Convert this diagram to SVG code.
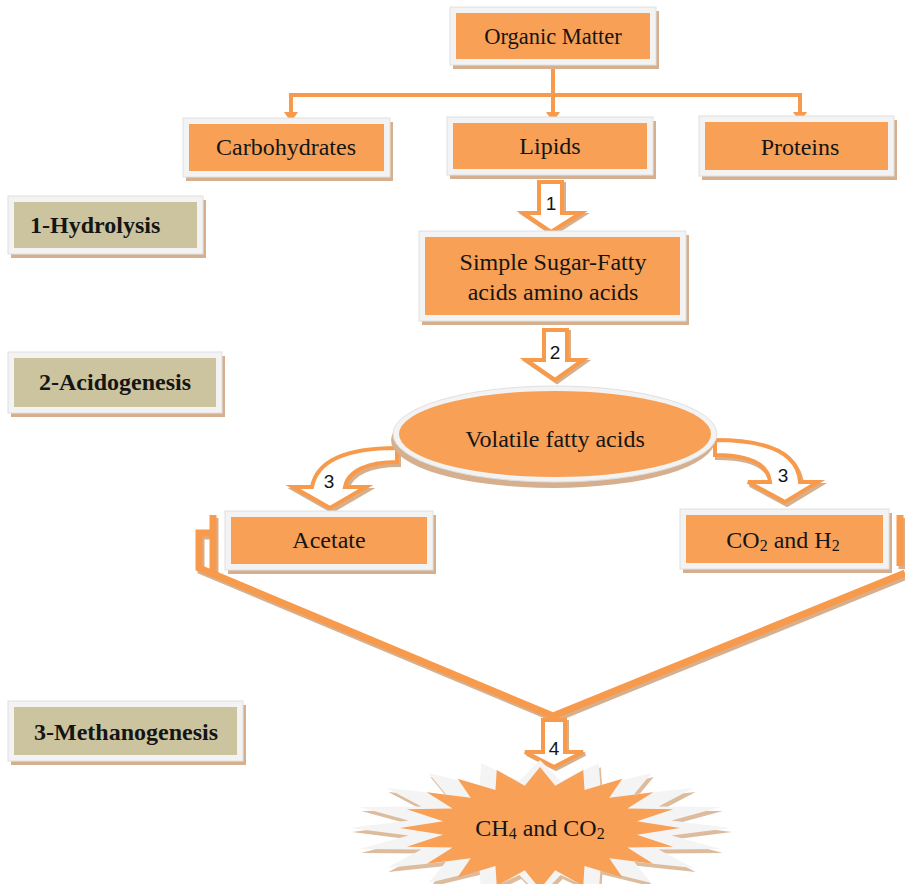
<svg xmlns="http://www.w3.org/2000/svg" width="905" height="884" viewBox="0 0 905 884">
<style>
.frame{fill:#F3F3F3;stroke:#E0E0E0;stroke-width:1}
.shadow{fill:#D6B08E}
.org{fill:#F8A056}
.tan{fill:#CCC49F}
.lbl{font-family:"Liberation Serif","Times New Roman",serif;font-size:24px;fill:#151515;text-anchor:middle}
.bold{font-weight:bold}
.num{font-family:"Liberation Sans",Arial,sans-serif;font-size:19px;fill:#151515;text-anchor:middle}
.line{stroke:#F79A4C;stroke-width:4;fill:none}
.blk{fill:#FFFFFF;stroke:#F79A4C;stroke-width:4;stroke-linejoin:miter}
.blksh{fill:none;stroke:#D6B08E;stroke-width:4;stroke-linejoin:miter}
.vband{stroke:#F79A4C;stroke-width:7;fill:none;stroke-linejoin:miter}
.vsh{stroke:#D6B08E;stroke-width:7;fill:none;stroke-linejoin:miter}
</style>
<defs>
<marker id="ah" viewBox="0 0 10 14" refX="0" refY="7" markerWidth="10" markerHeight="14" markerUnits="userSpaceOnUse" orient="auto">
<path d="M0,0 L10,7 L0,14 Z" fill="#F79A4C"/>
</marker>
<polygon id="star" points="0,-1 .109,-.692 .309,-.951 .318,-.624 .588,-.809 .495,-.495 .809,-.588 .624,-.318 .951,-.309 .692,-.109 1,0 .692,.109 .951,.309 .624,.318 .809,.588 .495,.495 .588,.809 .318,.624 .309,.951 .109,.692 0,1 -.109,.692 -.309,.951 -.318,.624 -.588,.809 -.495,.495 -.809,.588 -.624,.318 -.951,.309 -.692,.109 -1,0 -.692,-.109 -.951,-.309 -.624,-.318 -.809,-.588 -.495,-.495 -.588,-.809 -.318,-.624 -.309,-.951 -.109,-.692"/>
</defs>
<rect width="905" height="884" fill="#FFFFFF"/>

<g id="connectors">
<path class="line" d="M553,65 L553,112" marker-end="url(#ah)"/>
<path class="line" d="M289,95 L802,95"/>
<path class="line" d="M291,93 L291,112" marker-end="url(#ah)"/>
<path class="line" d="M800,93 L800,112" marker-end="url(#ah)"/>
<path class="blksh" d="M541,184 L564,184 L564,215 L583,215 L553,234 L525,215 L541,215 Z"/>
<path class="blk" d="M539,182 L562,182 L562,213 L581,213 L551,232 L523,213 L539,213 Z"/>
<path class="blksh" d="M546,332 L569,332 L569,362 L585,362 L557,382 L528,362 L546,362 Z"/>
<path class="blk" d="M544,330 L567,330 L567,360 L583,360 L555,380 L526,360 L544,360 Z"/>
<path class="blksh" d="M399,451 C362,451 320,458 314,490 L295,490 L332,511 L368,490 L347,490 C350,473 372,465 399,465 Z"/>
<path class="blk" d="M397,448 C360,448 318,455 312,487 L293,487 L330,508 L366,487 L345,487 C348,470 370,462 397,462 Z"/>
<path class="blksh" d="M717,443 C762,443 800,453 802,485 L820,485 L787,505 L750,485 L772,485 C770,467 752,458 717,458 Z"/>
<path class="blk" d="M715,440 C760,440 798,450 800,482 L818,482 L785,502 L748,482 L770,482 C768,464 750,455 715,455 Z"/>
<path class="vsh" d="M215,518 L215,578 M215,536 L201,536 L201,571 L555,719 L907,576"/>
<path class="vsh" d="M902,518 L902,569"/>
<path class="vband" d="M213,515 L213,575 M213,533 L199,533 L199,568 L553,716 L905,573"/>
<path class="vband" d="M900,515 L900,566"/>
<path class="blksh" d="M545,722 L567,722 L567,754 L585,754 L556,769 L527,754 L545,754 Z"/>
<path class="blk" d="M543,720 L565,720 L565,752 L583,752 L554,767 L525,752 L543,752 Z"/>
<text class="num" x="551" y="210">1</text>
<text class="num" x="555" y="359">2</text>
<text class="num" x="329" y="488">3</text>
<text class="num" x="783" y="482">3</text>
<text class="num" x="554" y="755">4</text>
</g>

<g id="organic-matter">
<rect class="shadow" x="453" y="11" width="206" height="58"/>
<rect class="frame" x="450" y="7" width="206" height="58"/>
<rect class="org" x="456" y="13" width="194" height="46"/>
<text class="lbl" x="553" y="44" style="font-size:22.5px">Organic Matter</text>
</g>

<g id="carbohydrates">
<rect class="shadow" x="186" y="122" width="207" height="59"/>
<rect class="frame" x="183" y="118" width="207" height="59"/>
<rect class="org" x="189" y="124" width="195" height="47"/>
<text class="lbl" x="286" y="155">Carbohydrates</text>
</g>

<g id="lipids">
<rect class="shadow" x="450" y="121" width="206" height="58"/>
<rect class="frame" x="447" y="117" width="206" height="58"/>
<rect class="org" x="453" y="123" width="194" height="46"/>
<text class="lbl" x="550" y="154">Lipids</text>
</g>

<g id="proteins">
<rect class="shadow" x="702" y="120" width="195" height="60"/>
<rect class="frame" x="699" y="116" width="195" height="60"/>
<rect class="org" x="705" y="122" width="183" height="48"/>
<text class="lbl" x="800" y="155">Proteins</text>
</g>

<g id="hydrolysis">
<rect class="shadow" x="11" y="200" width="195" height="58"/>
<rect class="frame" x="8" y="196" width="195" height="58"/>
<rect class="tan" x="14" y="202" width="183" height="46"/>
<text class="lbl bold" x="30" y="233" style="text-anchor:start">1-Hydrolysis</text>
</g>

<g id="simple-sugar">
<rect class="shadow" x="422" y="235" width="267" height="90"/>
<rect class="frame" x="419" y="231" width="267" height="90"/>
<rect class="org" x="425" y="237" width="255" height="78"/>
<text class="lbl" x="553" y="270">Simple Sugar-Fatty</text>
<text class="lbl" x="553" y="300">acids amino acids</text>
</g>

<g id="acidogenesis">
<rect class="shadow" x="11" y="356" width="214" height="61"/>
<rect class="frame" x="8" y="352" width="214" height="61"/>
<rect class="tan" x="14" y="358" width="202" height="49"/>
<text class="lbl bold" x="115" y="390">2-Acidogenesis</text>
</g>

<g id="volatile-fatty-acids">
<ellipse class="shadow" cx="553" cy="440" rx="162" ry="48"/>
<ellipse class="frame" cx="555" cy="434" rx="162" ry="48"/>
<ellipse class="org" cx="555" cy="434" rx="156" ry="43"/>
<text class="lbl" x="555" y="447">Volatile fatty acids</text>
</g>

<g id="acetate">
<rect class="shadow" x="228" y="515" width="208" height="59"/>
<rect class="frame" x="225" y="511" width="208" height="59"/>
<rect class="org" x="231" y="517" width="196" height="47"/>
<text class="lbl" x="329" y="548">Acetate</text>
</g>

<g id="co2-h2">
<rect class="shadow" x="683" y="513" width="209" height="60"/>
<rect class="frame" x="680" y="509" width="209" height="60"/>
<rect class="org" x="686" y="515" width="197" height="48"/>
<text class="lbl" x="783" y="548">CO<tspan font-size="16" dy="3">2</tspan><tspan dy="-3"> and H</tspan><tspan font-size="16" dy="3">2</tspan></text>
</g>

<g id="methanogenesis">
<rect class="shadow" x="11" y="705" width="235" height="60"/>
<rect class="frame" x="8" y="701" width="235" height="60"/>
<rect class="tan" x="14" y="707" width="223" height="48"/>
<text class="lbl bold" x="126" y="740">3-Methanogenesis</text>
</g>

<g id="ch4-co2">
<use href="#star" fill="#DDBC9E" transform="translate(542,832) scale(190,68)"/>
<use href="#star" fill="#F4F4F4" transform="translate(540,828) scale(190,68)"/>
<use href="#star" fill="#F8A056" transform="translate(540,828) scale(140,61)"/>
<text class="lbl" x="540" y="836">CH<tspan font-size="16" dy="3">4</tspan><tspan dy="-3"> and CO</tspan><tspan font-size="16" dy="3">2</tspan></text>
</g>
</svg>
